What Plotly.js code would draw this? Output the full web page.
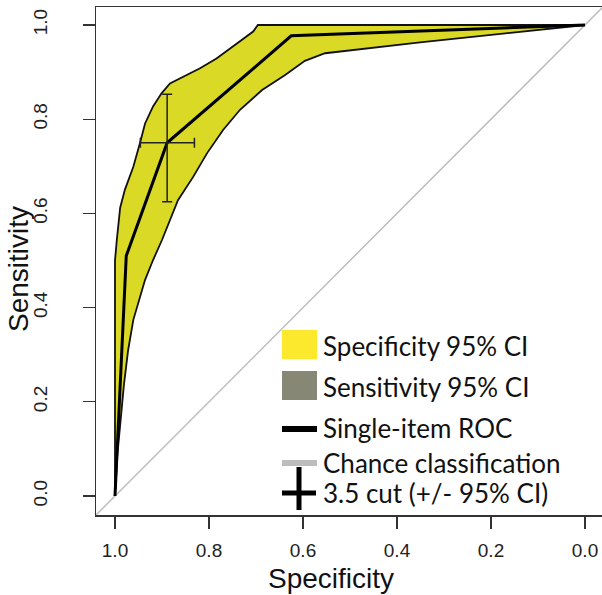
<!DOCTYPE html>
<html>
<head>
<meta charset="utf-8">
<script src="https://cdn.plot.ly/plotly-3.0.1.min.js"></script>
<style>html,body{margin:0;padding:0;background:#fff;overflow:hidden}#chart{width:602px;height:595px}</style>
</head>
<body>
<div id="chart"></div>
<script>
// ROC curve of the single item (specificity, sensitivity)
const rocSpec = [1.0, 0.976, 0.889, 0.625, 0.0];
const rocSens = [0.0, 0.51, 0.75, 0.977, 1.0];

// 95% CI band: upper/left boundary
const upSpec = [1.0, 1.0, 0.996, 0.989, 0.979, 0.961, 0.947, 0.936, 0.919, 0.901, 0.883, 0.862, 0.819, 0.784, 0.741, 0.706, 0.696, 0.0];
const upSens = [0.0, 0.50, 0.545, 0.612, 0.650, 0.699, 0.749, 0.791, 0.827, 0.855, 0.876, 0.887, 0.908, 0.929, 0.961, 0.986, 1.0, 1.0];
// 95% CI band: lower/right boundary
const loSpec = [1.0, 0.995, 0.988, 0.981, 0.972, 0.961, 0.949, 0.936, 0.919, 0.900, 0.866, 0.834, 0.804, 0.770, 0.734, 0.687, 0.638, 0.596, 0.553, 0.351, 0.0];
const loSens = [0.0, 0.087, 0.161, 0.236, 0.310, 0.374, 0.416, 0.459, 0.501, 0.5435, 0.628, 0.677, 0.728, 0.777, 0.820, 0.862, 0.894, 0.924, 0.940, 0.963, 1.0];

// 3.5 cut point with 95% CI
const cutSpec = [0.889];
const cutSens = [0.75];
const cutSpecLo = [0.831];
const cutSpecHi = [0.946];
const cutSensLo = [0.625];
const cutSensHi = [0.853];

// chance diagonal
const chanceX = [1.04, -0.04];
const chanceY = [-0.04, 1.04];

// axis ticks
const tickVals = [0, 0.2, 0.4, 0.6, 0.8, 1.0];
const tickText = ["0.0", "0.2", "0.4", "0.6", "0.8", "1.0"];

// titles and legend
const xTitle = "Specificity";
const yTitle = "Sensitivity";
const legendLabels = ["Specificity 95% CI", "Sensitivity 95% CI", "Single-item ROC", "Chance classification", "3.5 cut (+/- 95% CI)"];

const bandX = upSpec.concat(loSpec.slice().reverse());
const bandY = upSens.concat(loSens.slice().reverse());

const traces = [
  {x: chanceX, y: chanceY, mode: 'lines', line: {color: '#bdbdbd', width: 1.5}, hoverinfo: 'skip'},
  {x: bandX, y: bandY, mode: 'lines', fill: 'toself', fillcolor: '#dad926', line: {color: '#111', width: 1.8}, hoverinfo: 'skip'},
  {x: rocSpec, y: rocSens, mode: 'lines', line: {color: '#000', width: 3}},
  {x: cutSpec, y: cutSens, mode: 'markers', marker: {size: 1, color: '#222'},
   error_y: {type: 'data', symmetric: false, array: [cutSensHi[0]-cutSens[0]], arrayminus: [cutSens[0]-cutSensLo[0]], color: '#222', thickness: 1.5, width: 5},
   error_x: {type: 'data', symmetric: false, array: [cutSpecHi[0]-cutSpec[0]], arrayminus: [cutSpec[0]-cutSpecLo[0]], color: '#222', thickness: 1.5, width: 5}}
];

// pixel -> paper helpers for legend/title layout (plot area: x 96..602, y 7..515)
const L = 96, R = 602, T = 7, B = 515;
const px = v => (v - L) / (R - L);
const py = v => (B - v) / (B - T);

const shapes = [
  {type: 'rect', xref: 'paper', yref: 'paper', x0: px(282), x1: px(317), y0: py(359), y1: py(330), fillcolor: '#fce82c', line: {width: 0}},
  {type: 'rect', xref: 'paper', yref: 'paper', x0: px(282), x1: px(317), y0: py(400), y1: py(371), fillcolor: '#868775', line: {width: 0}},
  {type: 'line', xref: 'paper', yref: 'paper', x0: px(282), x1: px(317), y0: py(429), y1: py(429), line: {color: '#000', width: 6}},
  {type: 'line', xref: 'paper', yref: 'paper', x0: px(282), x1: px(317), y0: py(463), y1: py(463), line: {color: '#bdbdbd', width: 6}},
  {type: 'line', xref: 'paper', yref: 'paper', x0: px(282), x1: px(316), y0: py(493), y1: py(493), line: {color: '#000', width: 5}},
  {type: 'line', xref: 'paper', yref: 'paper', x0: px(299), x1: px(299), y0: py(467), y1: py(510), line: {color: '#000', width: 5}}
];
const textY = [346, 387, 428, 463, 493];
const annotations = legendLabels.map((t, i) => ({
  text: t, xref: 'paper', yref: 'paper', x: px(321), y: py(textY[i]), xanchor: 'left', yanchor: 'middle',
  showarrow: false, font: {family: 'Lato, sans-serif', size: 26, color: '#111'}
}));
const titleFont = {family: 'Liberation Sans, Arial, sans-serif', size: 28, color: '#111'};
annotations.push({
  text: yTitle, xref: 'paper', yref: 'paper', x: px(18), y: py(269), xanchor: 'center', yanchor: 'middle',
  textangle: -90, showarrow: false, font: titleFont
});
annotations.push({
  text: xTitle, xref: 'paper', yref: 'paper', x: px(331), y: py(578), xanchor: 'center', yanchor: 'middle',
  showarrow: false, font: titleFont
});

const axisCommon = {
  tickvals: tickVals, ticktext: tickText, ticks: 'outside', ticklen: 12, tickwidth: 1.2, tickcolor: '#333',
  showgrid: false, zeroline: false, showline: true, linecolor: '#333', linewidth: 1.5,
  tickfont: {family: 'Liberation Sans, Arial, sans-serif', size: 19, color: '#222'}, fixedrange: true
};

const layout = {
  width: 602, height: 595,
  margin: {l: L, r: 602 - R, t: T, b: 595 - B},
  paper_bgcolor: '#fff', plot_bgcolor: '#fff', showlegend: false,
  xaxis: Object.assign({}, axisCommon, {range: [1.0404, -0.0362], mirror: true, ticklabelstandoff: 6}),
  yaxis: Object.assign({}, axisCommon, {range: [-0.0403, 1.0382], tickangle: -90, ticklabelstandoff: 28}),
  shapes: shapes, annotations: annotations
};

Plotly.newPlot('chart', traces, layout, {displayModeBar: false, staticPlot: true});
</script>
</body>
</html>
